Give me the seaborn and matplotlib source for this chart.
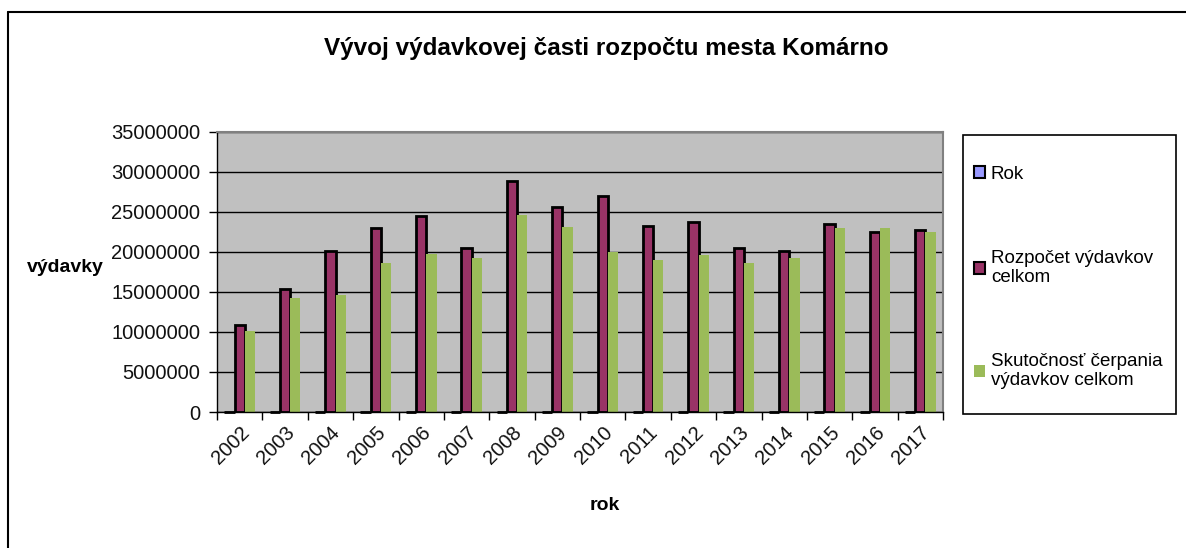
"""
Vyvoj vydavkovej casti rozpoctu mesta Komarno - bar chart.
"""
import matplotlib
matplotlib.use("Agg")
import matplotlib.pyplot as plt
from matplotlib.patches import Rectangle, Patch
from matplotlib.lines import Line2D
import seaborn as sns
import numpy as np
import pandas as pd

# Data
years = [2002, 2003, 2004, 2005, 2006, 2007, 2008, 2009,
         2010, 2011, 2012, 2013, 2014, 2015, 2016, 2017]
rozpocet = [10800000, 15300000, 20050000, 22950000, 24400000, 20450000, 28850000, 25600000,
            27000000, 23200000, 23700000, 20500000, 20050000, 23400000, 22500000, 22650000]
skutocnost = [10050000, 14250000, 14550000, 18600000, 19750000, 19250000, 24550000, 23100000,
              20000000, 19000000, 19550000, 18650000, 19250000, 22900000, 22900000, 22450000]
series_names = ["Rok", "Rozpočet výdavkov celkom", "Skutočnosť čerpania výdavkov celkom"]
colors = ["#9999FF", "#993366", "#9BBB59"]

df = pd.concat([
    pd.DataFrame({"rok": years, "value": years, "series": series_names[0]}),
    pd.DataFrame({"rok": years, "value": rozpocet, "series": series_names[1]}),
    pd.DataFrame({"rok": years, "value": skutocnost, "series": series_names[2]}),
])
df["rok"] = df["rok"].astype(str)

sns.set_theme(style="white")
plt.rcParams["font.family"] = ["Liberation Sans", "DejaVu Sans"]
plt.rcParams["text.color"] = "black"

W, H = 1186, 548
fig = plt.figure(figsize=(W / 100, H / 100), dpi=100)
ax = fig.add_axes([217 / W, 1 - 412 / H, (943 - 217) / W, (412 - 131.5) / H])

sns.barplot(data=df, x="rok", y="value", hue="series", palette=colors,
            width=0.68, dodge=True, ax=ax, legend=False, saturation=1)

# bar edges like the Excel original
for i, cont in enumerate(ax.containers):
    for bar in cont:
        if i < 2:
            bar.set_edgecolor("black")
            bar.set_linewidth(2)
        else:
            bar.set_linewidth(0)
        if i == 0:
            # the "Rok" bars are practically flat: keep their outline visible
            bar.set_clip_on(False)
            bar.set_zorder(3)

ax.set_facecolor("#C0C0C0")
ax.set_ylim(0, 35000000)
ax.set_xlim(-0.5, 15.5)
ax.set_yticks(np.arange(0, 35000001, 5000000))
ax.set_yticklabels([str(v) for v in range(0, 35000001, 5000000)], fontsize=14.5, color="#111111")
ax.yaxis.grid(True, color="black", linewidth=1)
ax.set_axisbelow(True)
ax.set_xlabel("")
ax.set_ylabel("")

ax.set_xticks(range(len(years)))
ax.set_xticklabels([str(y) for y in years], rotation=45, ha="right", va="top",
                   rotation_mode="anchor", fontsize=14.5, color="#111111")
ax.set_xticks(np.arange(-0.5, 16, 1), minor=True)
ax.tick_params(axis="x", which="major", length=0, pad=8)
ax.tick_params(axis="x", which="minor", length=6, width=1, color="black", bottom=True)
ax.tick_params(axis="y", length=6, width=1, color="black", left=True, pad=6)

for side in ["top", "right"]:
    ax.spines[side].set_color("#808080")
    ax.spines[side].set_linewidth(1.5)
for side in ["left", "bottom"]:
    ax.spines[side].set_color("black")
    ax.spines[side].set_linewidth(1)

# titles
fig.text(606 / W, 1 - 48 / H, "Vývoj výdavkovej časti rozpočtu mesta Komárno",
         ha="center", va="center", fontsize=17.5, fontweight="bold", color="black")
fig.text(605 / W, 1 - 505 / H, "rok", ha="center", va="center", fontsize=14,
         fontweight="bold", color="black")
fig.text(65 / W, 1 - 268 / H, "výdavky", ha="center", va="center", fontsize=14,
         fontweight="bold", color="black")

# outer chart frame (only top and left visible)
fig.add_artist(Line2D([8 / W, 1.05], [1 - 12 / H, 1 - 12 / H], color="black", lw=1.5))
fig.add_artist(Line2D([8 / W, 8 / W], [1 - 12 / H, -0.05], color="black", lw=1.5))

# legend box
fig.add_artist(Rectangle((963 / W, 1 - 414 / H), (1176 - 963) / W, (414 - 135) / H,
                         transform=fig.transFigure, facecolor="white",
                         edgecolor="black", lw=1.2))
handles = [
    Patch(facecolor=colors[0], edgecolor="black", lw=1.5),
    Patch(facecolor=colors[1], edgecolor="black", lw=1.5),
    Patch(facecolor=colors[2], edgecolor="none"),
]
labels = ["Rok", "Rozpočet výdavkov\ncelkom", "Skutočnosť čerpania\nvýdavkov celkom"]
fig.legend(handles, labels, loc="upper left", bbox_to_anchor=(974 / W, 1 - 166 / H),
           frameon=False, fontsize=13.5, handlelength=0.6, handleheight=0.6,
           handletextpad=0.3, labelspacing=3.55, borderpad=0, borderaxespad=0,
           labelcolor="black")

fig.savefig("out.png", dpi=100, facecolor="white")
